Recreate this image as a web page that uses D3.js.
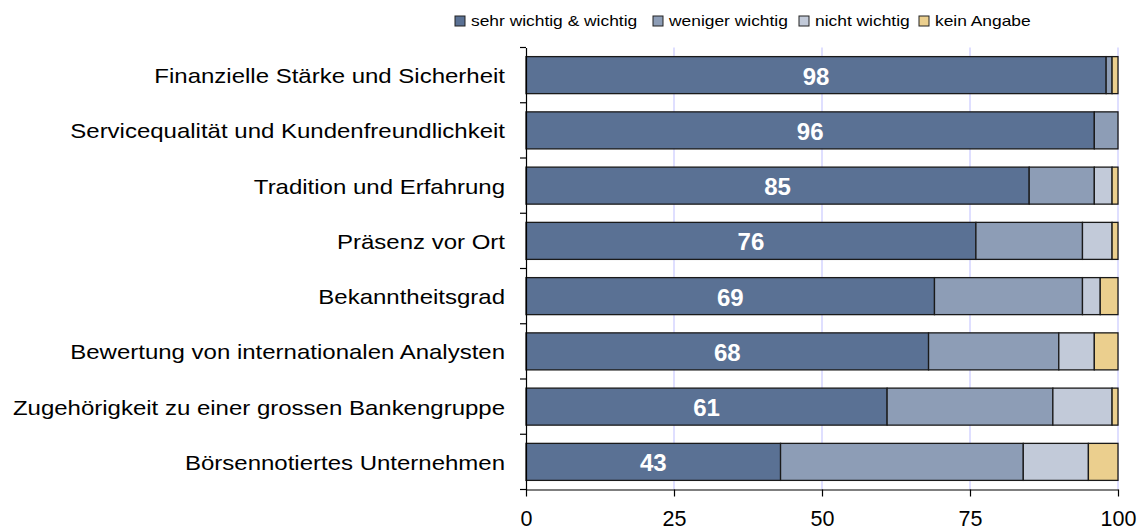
<!DOCTYPE html>
<html lang="de">
<head>
	<meta charset="UTF-8">
	<script src="https://cdn.jsdelivr.net/npm/d3@7/dist/d3.min.js"></script>
	<title>Wichtigkeit der Kriterien</title>
	<style>
		body{ margin:0; background:#fff; overflow:hidden; }
		text{ font-family:"Liberation Sans", Arial, sans-serif; }
		.cat text{ font-size:20px; fill:#000; }
		.xax text{ font-size:21.5px; fill:#000; }
		.legend_text{ font-size:15px; fill:#000; }
		.val{ font-size:24px; font-weight:bold; fill:#fff; }
		.grid{ stroke:#d4d4ff; stroke-width:1.5px; }
	</style>
</head>
<body>
<script>
	// Daten
	const categories = ["Finanzielle Stärke und Sicherheit",
		"Servicequalität und Kundenfreundlichkeit",
		"Tradition und Erfahrung",
		"Präsenz vor Ort",
		"Bekanntheitsgrad",
		"Bewertung von internationalen Analysten",
		"Zugehörigkeit zu einer grossen Bankengruppe",
		"Börsennotiertes Unternehmen"];
	const seriesNames = ["sehr wichtig & wichtig","weniger wichtig","nicht wichtig","kein Angabe"];
	const sehrWichtig  = [98, 96, 85, 76, 69, 68, 61, 43];
	const wenigerWichtig = [1, 4, 11, 18, 25, 22, 28, 41];
	const nichtWichtig = [0, 0, 3, 5, 3, 6, 10, 11];
	const keinAngabe   = [1, 0, 1, 1, 3, 4, 1, 5];
	const xTicks = [0, 25, 50, 75, 100];

	const colors = ["#5a7194", "#8d9db6", "#c2cad9", "#ebcf8e"];
	const series = [sehrWichtig, wenigerWichtig, nichtWichtig, keinAngabe];

	const width = 1147, height = 531;
	const plotL = 526, plotR = 1118, plotT = 47.5, plotB = 489.5;
	const stretch = 1.2, legStretch = 1.16;   // Schrift im Original breit gezogen

	const svg = d3.select("body").append("svg")
		.attr("width", width)
		.attr("height", height)
		.style("display","block");

	let x = d3.scaleLinear().domain([0,100]).range([plotL,plotR]);
	let y = d3.scaleBand().domain(categories).range([plotT,plotB]).paddingInner(0.33).paddingOuter(0.165);
	let yb = d3.scaleBand().domain(categories).range([plotT,plotB]);

	// Gitterlinien
	svg.selectAll(".grid")
		.data(xTicks.slice(1))
		.enter()
		.append("line")
		.attr("class","grid")
		.attr("x1", d => x(d)).attr("x2", d => x(d))
		.attr("y1", plotT).attr("y2", plotB);

	// gestapelte Balken
	const rows = categories.map((c,i) => {
		let acc = 0;
		return series.map((s,k) => {
			const seg = {cat:c, k:k, x0:acc, x1:acc + s[i]};
			acc += s[i];
			return seg;
		}).filter(d => d.x1 > d.x0);
	});

	svg.selectAll(".row")
		.data(rows)
		.enter()
		.append("g")
		.attr("class","row")
		.selectAll("rect")
		.data(d => d)
		.enter()
		.append("rect")
		.attr("x", d => x(d.x0))
		.attr("y", d => y(d.cat))
		.attr("width", d => x(d.x1) - x(d.x0))
		.attr("height", y.bandwidth())
		.style("fill", d => colors[d.k])
		.style("stroke", "#1a1a1a")
		.style("stroke-width", 1.3);

	// Werte
	svg.selectAll(".val")
		.data(categories)
		.enter()
		.append("text")
		.attr("class","val")
		.attr("x", (d,i) => x(sehrWichtig[i]/2))
		.attr("y", d => y(d) + y.bandwidth()/2)
		.attr("dy", "0.4em")
		.attr("text-anchor","middle")
		.text((d,i) => sehrWichtig[i]);

	// Achsen
	const yAxis = svg.append("g")
		.attr("class","cat")
		.attr("transform","translate("+plotL+",0)")
		.call(d3.axisLeft(yb).tickSize(0).tickPadding(21));
	yAxis.select(".domain").attr("stroke","#000").attr("stroke-width",1.2);
	yAxis.selectAll(".tick text")
		.attr("dy","0.4em")
		.attr("x", -21/stretch)
		.attr("transform","scale("+stretch+",1)");
	// Trennstriche zwischen Kategorien
	yAxis.selectAll(".sep")
		.data(d3.range(categories.length + 1))
		.enter()
		.append("line")
		.attr("x1",-6).attr("x2",0)
		.attr("y1", i => plotT + i*yb.step())
		.attr("y2", i => plotT + i*yb.step())
		.attr("stroke","#000").attr("stroke-width",1.2);

	const xAxis = svg.append("g")
		.attr("class","xax")
		.attr("transform","translate(0,"+plotB+")")
		.call(d3.axisBottom(x).tickValues(xTicks).tickSize(7).tickPadding(14).tickSizeOuter(0));
	xAxis.select(".domain").attr("stroke","#000").attr("stroke-width",1.2);
	xAxis.selectAll(".tick line").attr("stroke","#000").attr("stroke-width",1.2);

	// Legende
	const legX = [455, 653, 799, 919];
	const legend = svg.selectAll(".legend")
		.data(seriesNames)
		.enter()
		.append("g")
		.attr("class","legend")
		.attr("transform",(d,i) => "translate("+legX[i]+",16)");
	legend.append("rect")
		.attr("width",10).attr("height",10)
		.style("fill",(d,i) => colors[i])
		.style("stroke","#222").style("stroke-width",1);
	legend.append("text")
		.attr("class","legend_text")
		.attr("x",16/legStretch).attr("y",5)
		.attr("dy","0.36em")
		.attr("transform","scale("+legStretch+",1)")
		.text(d => d);
</script>
</body>
</html>
